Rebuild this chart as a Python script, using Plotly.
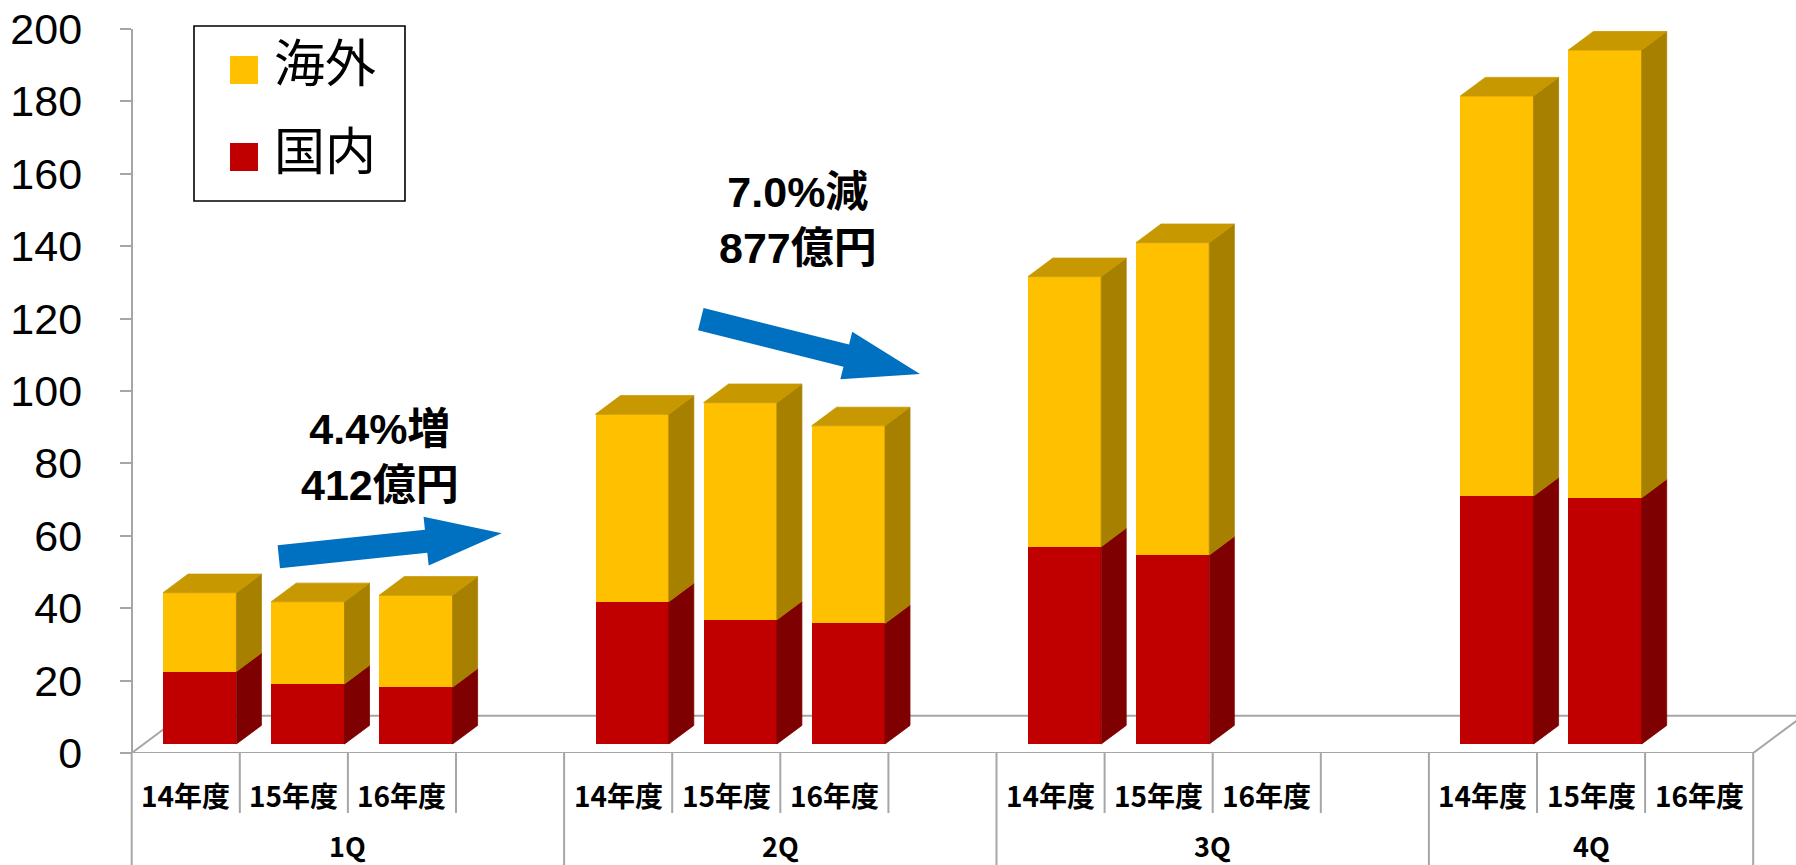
import math
import plotly.graph_objects as go

# ---------------- data ----------------
quarters = ["1Q", "2Q", "3Q", "4Q"]
years = ["14年度", "15年度", "16年度"]
# values per quarter, per fiscal year (None = no bar)
domestic = [[20.0, 16.6, 15.7], [39.3, 34.3, 33.3], [54.5, 52.2, None], [68.5, 68.0, None]]      # 国内
overseas = [[21.8, 22.7, 25.4], [51.8, 60.0, 54.6], [74.6, 86.3, None], [110.5, 123.7, None]]   # 海外
series_names = ["海外", "国内"]
y_ticks = [0, 20, 40, 60, 80, 100, 120, 140, 160, 180, 200]
notes = ["4.4%増<br>412億円", "7.0%減<br>877億円"]

# ---------------- layout constants ----------------
W, H = 1796, 865
ML, MR, MT, MB = 100, 0, 29, 112
PW = W - ML - MR
PH = H - MT - MB
SLOT_PX = 108.1
AXIS_PX = 131.7
SLOTS_PER_Q = 4
N_SLOTS = len(quarters) * SLOTS_PER_Q - 1
X0 = -0.5 - (AXIS_PX - ML) / SLOT_PX
X1 = X0 + PW / SLOT_PX
Y_MAX = 200
PXU = PH / Y_MAX

BAR_W = 73.3 / SLOT_PX
FRONT_SHIFT = 14.0 / SLOT_PX
DX = 25.0 / SLOT_PX
DY = 18.6 / PXU
BASE = 9.0 / PXU

YEL, YEL_SIDE, YEL_TOP = "#FFC000", "#A88000", "#C79800"
RED, RED_SIDE = "#C00000", "#7F0000"
GRAY = "#A6A6A6"
BLUE = "#0070C0"
FONT_CJK = "Noto Sans CJK JP"
FONT_NUM = "Liberation Sans, Arial, Noto Sans CJK JP"


def pxp(px):
    return (px - ML) / PW


def pyp(py):
    return 1 - (py - MT) / PH


# ---------------- bars ----------------
xs, dom_v, ov_v = [], [], []
for qi in range(len(quarters)):
    for yi in range(len(years)):
        d = domestic[qi][yi]
        o = overseas[qi][yi]
        if d is None:
            continue
        xs.append(qi * SLOTS_PER_Q + yi + FRONT_SHIFT)
        dom_v.append(d)
        ov_v.append(o)

fig = go.Figure()
fig.add_bar(x=xs, y=dom_v, base=[BASE] * len(xs), width=BAR_W, name=series_names[1],
            marker=dict(color=RED, line=dict(width=0)), showlegend=False, hoverinfo="skip")
fig.add_bar(x=xs, y=ov_v, base=[BASE + d for d in dom_v], width=BAR_W, name=series_names[0],
            marker=dict(color=YEL, line=dict(width=0)), showlegend=False, hoverinfo="skip")


def add_poly(px_list, py_list, pts):
    for (a, b) in pts + [pts[0]]:
        px_list.append(a)
        py_list.append(b)
    px_list.append(None)
    py_list.append(None)


rs_x, rs_y, ys_x, ys_y, yt_x, yt_y = [], [], [], [], [], []
for x, d, o in zip(xs, dom_v, ov_v):
    xl = x - BAR_W / 2
    xr = x + BAR_W / 2
    b0 = BASE
    b1 = BASE + d
    b2 = BASE + d + o
    add_poly(rs_x, rs_y, [(xr, b0), (xr + DX, b0 + DY), (xr + DX, b1 + DY), (xr, b1)])
    add_poly(ys_x, ys_y, [(xr, b1), (xr + DX, b1 + DY), (xr + DX, b2 + DY), (xr, b2)])
    add_poly(yt_x, yt_y, [(xl, b2), (xr, b2), (xr + DX, b2 + DY), (xl + DX, b2 + DY)])

for px_l, py_l, col in [(rs_x, rs_y, RED_SIDE), (ys_x, ys_y, YEL_SIDE), (yt_x, yt_y, YEL_TOP)]:
    fig.add_scatter(x=px_l, y=py_l, mode="lines", fill="toself", fillcolor=col,
                    line=dict(color=col, width=0.8), showlegend=False, hoverinfo="skip")

# ---------------- shapes ----------------
shapes = []
floor_back = 2 * DY
# floor (behind bars)
shapes.append(dict(type="line", xref="x", yref="y", x0=-0.5, y0=0, x1=-0.5 + 2 * DX, y1=floor_back,
                   line=dict(color=GRAY, width=2), layer="below"))
shapes.append(dict(type="line", xref="x", yref="y", x0=-0.5 + 2 * DX, y0=floor_back,
                   x1=N_SLOTS - 0.5 + 2 * DX, y1=floor_back, line=dict(color=GRAY, width=2), layer="below"))
shapes.append(dict(type="line", xref="x", yref="y", x0=N_SLOTS - 0.5, y0=0,
                   x1=N_SLOTS - 0.5 + 2 * DX, y1=floor_back, line=dict(color=GRAY, width=2), layer="below"))
shapes.append(dict(type="line", xref="x", yref="y", x0=-0.5, y0=0, x1=N_SLOTS - 0.5, y1=0,
                   line=dict(color=GRAY, width=2)))
# category separators
for k in range(N_SLOTS + 1):
    long_line = (k % SLOTS_PER_Q == 0) or (k == N_SLOTS)
    shapes.append(dict(type="line", xref="x", yref="paper", x0=k - 0.5, x1=k - 0.5,
                       y0=0, y1=pyp(865 if long_line else 813),
                       line=dict(color=GRAY, width=2)))

# legend box
shapes.append(dict(type="rect", xref="paper", yref="paper", x0=pxp(194), x1=pxp(405),
                   y0=pyp(201), y1=pyp(26), line=dict(color="black", width=1.6), fillcolor="white"))
shapes.append(dict(type="rect", xref="paper", yref="paper", x0=pxp(230), x1=pxp(258),
                   y0=pyp(84), y1=pyp(56), line=dict(width=0), fillcolor=YEL))
shapes.append(dict(type="rect", xref="paper", yref="paper", x0=pxp(230), x1=pxp(258),
                   y0=pyp(171), y1=pyp(143), line=dict(width=0), fillcolor=RED))


# block arrows
def arrow_path(tail, tip, shaft, head_w, head_len):
    dx, dy = tip[0] - tail[0], tip[1] - tail[1]
    L = math.hypot(dx, dy)
    ux, uy = dx / L, dy / L
    nx, ny = -uy, ux
    hb = (tip[0] - ux * head_len, tip[1] - uy * head_len)
    pts = [
        (tail[0] + nx * shaft / 2, tail[1] + ny * shaft / 2),
        (hb[0] + nx * shaft / 2, hb[1] + ny * shaft / 2),
        (hb[0] + nx * head_w / 2, hb[1] + ny * head_w / 2),
        tip,
        (hb[0] - nx * head_w / 2, hb[1] - ny * head_w / 2),
        (hb[0] - nx * shaft / 2, hb[1] - ny * shaft / 2),
        (tail[0] - nx * shaft / 2, tail[1] - ny * shaft / 2),
    ]
    return "M " + " L ".join(f"{pxp(a):.5f},{pyp(b):.5f}" for a, b in pts) + " Z"


arrows = [((278.8, 556.7), (501.7, 533.3)), ((700.8, 319.2), (920.0, 374.0))]
for tail, tip in arrows:
    shapes.append(dict(type="path", xref="paper", yref="paper",
                       path=arrow_path(tail, tip, 23, 49, 76),
                       fillcolor=BLUE, line=dict(width=0)))

# ---------------- annotations ----------------
ann = []
for qi, q in enumerate(quarters):
    for yi, yr in enumerate(years):
        ann.append(dict(x=qi * SLOTS_PER_Q + yi, y=pyp(795), xref="x", yref="paper",
                        text=f"<b>{yr}</b>", showarrow=False, xanchor="center", yanchor="middle",
                        font=dict(family=FONT_CJK, size=28, color="black")))
    g0 = qi * SLOTS_PER_Q - 0.5
    g1 = min(qi * SLOTS_PER_Q + SLOTS_PER_Q - 0.5, N_SLOTS - 0.5)
    ann.append(dict(x=(g0 + g1) / 2, y=pyp(845), xref="x", yref="paper",
                    text=f"<b>{q}</b>", showarrow=False, xanchor="center", yanchor="middle",
                    font=dict(family=FONT_CJK, size=27, color="black")))

# legend labels
for name, cy in [(series_names[0], 60), (series_names[1], 148)]:
    ann.append(dict(x=pxp(272), y=pyp(cy), xref="paper", yref="paper", text=name,
                    showarrow=False, xanchor="left", yanchor="middle",
                    font=dict(family=FONT_CJK, size=51, color="black")))

# change notes
for txt, (cx, cy) in zip(notes, [(380, 456.5), (798, 220)]):
    ann.append(dict(x=pxp(cx), y=pyp(cy), xref="paper", yref="paper", text=f"<b>{txt}</b>",
                    showarrow=False, xanchor="center", yanchor="middle",
                    font=dict(family=FONT_NUM, size=43, color="black")))

fig.update_layout(
    width=W, height=H,
    margin=dict(l=ML, r=MR, t=MT, b=MB, pad=0),
    paper_bgcolor="white", plot_bgcolor="white",
    barmode="overlay", bargap=0,
    showlegend=False,
    shapes=shapes, annotations=ann,
    xaxis=dict(range=[X0, X1], visible=False, fixedrange=True),
    yaxis=dict(range=[0, Y_MAX], tickvals=y_ticks, ticks="outside", ticklen=11, tickwidth=2,
               tickcolor=GRAY, showline=True, linecolor=GRAY, linewidth=2, showgrid=False,
               zeroline=False, anchor="free", position=pxp(AXIS_PX), ticklabelstandoff=29,
               tickfont=dict(family=FONT_NUM, size=43, color="black"), fixedrange=True),
)

fig.write_html("out.html")
